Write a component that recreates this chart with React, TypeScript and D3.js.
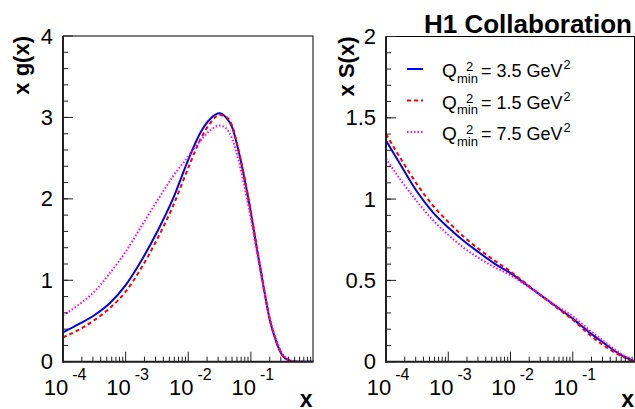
import React from "react";
import * as d3 from "d3";

// ---------- data ----------
// left panel: x g(x), grid in log10(x)
const gLogX = [-4, -3.75, -3.5, -3.25, -3, -2.75, -2.5, -2.25, -2, -1.8, -1.65, -1.5, -1.4, -1.3, -1.2, -1.1, -1.0, -0.9, -0.8, -0.7, -0.6, -0.5, -0.4, -0.3, -0.15, 0];
const gBlue = [0.36, 0.46, 0.57, 0.72, 0.94, 1.24, 1.59, 1.99, 2.48, 2.82, 2.98, 3.05, 3.0, 2.88, 2.6, 2.24, 1.83, 1.37, 0.93, 0.52, 0.255, 0.08, 0.02, 0.003, 0, 0];
const gRed = [0.3, 0.39, 0.51, 0.66, 0.86, 1.15, 1.5, 1.9, 2.38, 2.74, 2.93, 3.03, 3.01, 2.9, 2.61, 2.25, 1.84, 1.38, 0.94, 0.53, 0.26, 0.085, 0.02, 0.003, 0, 0];
const gMag = [0.57, 0.7, 0.86, 1.09, 1.35, 1.66, 1.97, 2.27, 2.52, 2.72, 2.84, 2.9, 2.87, 2.74, 2.48, 2.14, 1.76, 1.33, 0.92, 0.54, 0.28, 0.1, 0.03, 0.005, 0, 0];

// right panel: x S(x)
const sLogX = [-4, -3.75, -3.5, -3.25, -3, -2.75, -2.5, -2.25, -2, -1.75, -1.5, -1.25, -1.0, -0.75, -0.5, -0.25, 0];
const sBlue = [1.36, 1.2, 1.045, 0.92, 0.825, 0.742, 0.67, 0.602, 0.545, 0.475, 0.405, 0.335, 0.265, 0.185, 0.115, 0.047, 0];
const sRed = [1.4, 1.24, 1.09, 0.962, 0.86, 0.768, 0.69, 0.62, 0.555, 0.48, 0.405, 0.33, 0.258, 0.172, 0.1, 0.04, 0];
const sMag = [1.25, 1.11, 0.985, 0.872, 0.78, 0.7, 0.635, 0.58, 0.532, 0.47, 0.405, 0.34, 0.28, 0.2, 0.125, 0.055, 0];

const xTickExps = [-4, -3, -2, -1];
const yTicksLeft = [0, 1, 2, 3, 4];
const yTicksRight = [0, 0.5, 1, 1.5, 2];
const yTickLabelsLeft = ["0", "1", "2", "3", "4"];
const yTickLabelsRight = ["0", "0.5", "1", "1.5", "2"];

const legendValues = ["3.5", "1.5", "7.5"];
const seriesColors = ["#0000ff", "#ff0000", "#ff00ff"];
const seriesDash = ["none", "4,3", "1.5,2"];

const FONT = "'Liberation Sans', Arial, Helvetica, sans-serif";

type PanelProps = {
  id: string;
  x0: number;
  x1: number;
  y0: number;
  y1: number;
  yMax: number;
  yMinorStep: number;
  yTicks: number[];
  yLabels: string[];
  logX: number[];
  series: number[][];
  title: string;
  titleX: number;
};

function Panel(p: PanelProps) {
  const xs = d3.scaleLog().domain([1e-4, 1]).range([p.x0, p.x1]);
  const ys = d3.scaleLinear().domain([0, p.yMax]).range([p.y0, p.y1]);
  const line = d3
    .line<[number, number]>()
    .x((d) => xs(Math.pow(10, d[0])))
    .y((d) => ys(d[1]))
    .curve(d3.curveMonotoneX);

  const minorX: number[] = [];
  for (let e = -4; e < 0; e++) {
    for (let k = 2; k <= 9; k++) minorX.push(k * Math.pow(10, e));
  }
  const minorY: number[] = [];
  const nMinor = Math.round(p.yMax / p.yMinorStep);
  for (let i = 1; i < nMinor; i++) minorY.push(i * p.yMinorStep);

  return (
    <g>
      <defs>
        <clipPath id={`clip-${p.id}`}>
          <rect x={p.x0} y={p.y1} width={p.x1 - p.x0} height={p.y0 - p.y1} />
        </clipPath>
      </defs>
      <rect x={p.x0} y={p.y1} width={p.x1 - p.x0 - 0.5} height={p.y0 - p.y1} fill="none" stroke="#000" strokeWidth={1} />
      <g clipPath={`url(#clip-${p.id})`}>
        {p.series.map((vals, i) => (
          <path
            key={i}
            d={line(p.logX.map((l, j) => [l, vals[j]] as [number, number])) || ""}
            fill="none"
            stroke={seriesColors[i]}
            strokeWidth={2}
            strokeDasharray={seriesDash[i]}
          />
        ))}
      </g>
      {minorY.map((v) => (
        <line key={"my" + v} x1={p.x0} x2={p.x0 + 5} y1={ys(v)} y2={ys(v)} stroke="#222" strokeWidth={1} />
      ))}
      {p.yTicks.map((v) => (
        <line key={"Y" + v} x1={p.x0} x2={p.x0 + 10} y1={ys(v)} y2={ys(v)} stroke="#222" strokeWidth={1} />
      ))}
      {p.yTicks.map((v, i) => (
        <text key={"yl" + v} x={p.x0 - 10} y={ys(v) + 7.5} textAnchor="end" fontSize={22} fontFamily={FONT} fill="#000">
          {p.yLabels[i]}
        </text>
      ))}
      {minorX.map((v, i) => (
        <line key={"mx" + i} x1={xs(v)} x2={xs(v)} y1={p.y0} y2={p.y0 - 5} stroke="#222" strokeWidth={1} />
      ))}
      {xTickExps.map((e) => (
        <line key={"X" + e} x1={xs(Math.pow(10, e))} x2={xs(Math.pow(10, e))} y1={p.y0} y2={p.y0 - 10} stroke="#222" strokeWidth={1} />
      ))}
      {xTickExps.map((e) => (
        <text key={"xl" + e} x={xs(Math.pow(10, e)) + 2} y={395} textAnchor="middle" fontSize={22} fontFamily={FONT} fill="#000">
          10
          <tspan dx={4} dy={-15} fontSize={16}>
            {String(e)}
          </tspan>
        </text>
      ))}
      <line x1={p.x0} x2={p.x0} y1={p.y1} y2={p.y0 + 1} stroke="#222" strokeWidth={2} />
      <line x1={p.x0} x2={p.x1} y1={p.y0} y2={p.y0} stroke="#222" strokeWidth={2} />
      <text
        transform={`translate(${p.titleX},${p.y1}) rotate(-90)`}
        textAnchor="end"
        fontSize={22}
        fontWeight="bold"
        fontFamily={FONT}
        fill="#000"
      >
        {p.title}
      </text>
      <text x={p.x1 - 1} y={407} textAnchor="end" fontSize={23} fontWeight="bold" fontFamily={FONT} fill="#000">
        x
      </text>
    </g>
  );
}

export default function App() {
  const legendRows = [69, 100.5, 132];
  return (
    <svg width={635} height={409} style={{ position: "absolute", left: 0, top: 0, background: "#fff" }}>
      <rect width={635} height={409} fill="#fff" />
      <Panel
        id="g"
        x0={63}
        x1={313.5}
        y0={361.7}
        y1={36}
        yMax={4}
        yMinorStep={0.2}
        yTicks={yTicksLeft}
        yLabels={yTickLabelsLeft}
        logX={gLogX}
        series={[gBlue, gRed, gMag]}
        title="x g(x)"
        titleX={29}
      />
      <Panel
        id="s"
        x0={386}
        x1={635}
        y0={361.7}
        y1={36.5}
        yMax={2}
        yMinorStep={0.1}
        yTicks={yTicksRight}
        yLabels={yTickLabelsRight}
        logX={sLogX}
        series={[sBlue, sRed, sMag]}
        title="x S(x)"
        titleX={354}
      />
      <text x={632} y={33} textAnchor="end" fontSize={26} fontWeight="bold" fontFamily={FONT} fill="#000">
        H1 Collaboration
      </text>
      {legendRows.map((ly, i) => (
        <g key={i}>
          <line x1={407} x2={423} y1={ly} y2={ly} stroke={seriesColors[i]} strokeWidth={2} strokeDasharray={seriesDash[i]} />
          <text x={442} y={ly + 8} fontSize={19} fontFamily={FONT} fill="#000">
            Q
          </text>
          <text x={457} y={ly + 13.5} fontSize={13} fontFamily={FONT} fill="#000">
            min
          </text>
          <text x={466} y={ly + 2} fontSize={13} fontFamily={FONT} fill="#000">
            2
          </text>
          <text x={481} y={ly + 8} fontSize={18} fontFamily={FONT} fill="#000">
            {`= ${legendValues[i]} GeV`}
            <tspan dx={1} dy={-8} fontSize={13}>
              2
            </tspan>
          </text>
        </g>
      ))}
    </svg>
  );
}
